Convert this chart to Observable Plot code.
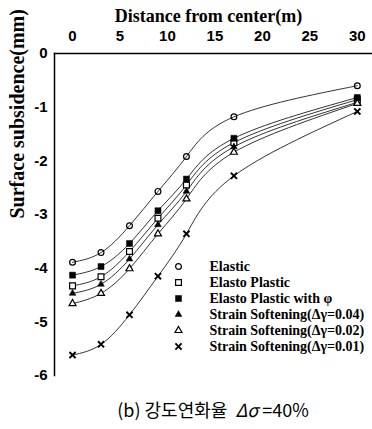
<!DOCTYPE html>
<html>
<head>
<meta charset="utf-8">
<script src="https://cdn.jsdelivr.net/npm/d3@7"></script>
<script src="https://cdn.jsdelivr.net/npm/@observablehq/plot@0.6"></script>
<style>
  html, body { margin: 0; padding: 0; background: #fff; }
  #wrap { position: relative; width: 372px; height: 429px; overflow: hidden; }
  #legend { position: absolute; left: 164px; top: 246px; }
  #caption { position: absolute; left: 54px; width: 318px; top: 397px; text-align: center;
    font-family: "Noto Sans CJK KR", "Noto Sans", sans-serif; font-size: 18px; color: #000; line-height: 24px; white-space: pre; }
</style>
</head>
<body>
<div id="wrap">
  <div id="chart"></div>
  <div id="legend"></div>
  <div id="caption">(b) 강도연화율  <i>Δσ</i> =40%</div>
</div>
<script>
// ---- data ----
const distance = [0, 3, 6, 9, 12, 17, 30];
const seriesNames = [
  "Elastic",
  "Elasto Plastic",
  "Elasto Plastic with φ",
  "Strain Softening(Δγ=0.04)",
  "Strain Softening(Δγ=0.02)",
  "Strain Softening(Δγ=0.01)"
];
const elastic          = [-3.89, -3.71, -3.21, -2.57, -1.92, -1.18, -0.60];
const elastoPlastic    = [-4.33, -4.16, -3.69, -3.07, -2.45, -1.66, -0.86];
const elastoPlasticPhi = [-4.13, -3.97, -3.54, -2.93, -2.34, -1.58, -0.82];
const softening004     = [-4.47, -4.30, -3.83, -3.19, -2.57, -1.74, -0.91];
const softening002     = [-4.66, -4.47, -4.01, -3.36, -2.71, -1.84, -0.93];
const softening001     = [-5.62, -5.42, -4.87, -4.15, -3.36, -2.28, -1.08];
const xTicks = [0, 5, 10, 15, 20, 25, 30];
const yTicks = [0, -1, -2, -3, -4, -5, -6];

const seriesValues = [elastic, elastoPlastic, elastoPlasticPhi, softening004, softening002, softening001];
const data = seriesNames.flatMap((s, i) => distance.map((d, j) => ({series: s, x: d, y: seriesValues[i][j]})));

// ---- marker styles ----
const markerStyle = {
  "Elastic":                   {symbol: "circle",   fill: "none",  r: 2.9, strokeWidth: 1.2},
  "Elasto Plastic":            {symbol: "square",   fill: "white", r: 3.3, strokeWidth: 1.2},
  "Elasto Plastic with φ":     {symbol: "square",   fill: "black", r: 3.4, strokeWidth: 0.5},
  "Strain Softening(Δγ=0.04)": {symbol: "triangle", fill: "black", r: 2.5, strokeWidth: 0.5},
  "Strain Softening(Δγ=0.02)": {symbol: "triangle", fill: "white", r: 2.6, strokeWidth: 1.2},
  "Strain Softening(Δγ=0.01)": {symbol: "times",    fill: "none",  r: 2.9, strokeWidth: 1.9}
};

const serif = "'Liberation Serif', 'Times New Roman', serif";
const sans = "'Liberation Sans', Arial, sans-serif";

const marks = [
  Plot.frame({anchor: "left", strokeWidth: 1.5}),
  Plot.frame({anchor: "top", strokeWidth: 1.5}),
  Plot.axisX(xTicks, {anchor: "top", tickSize: 0, tickPadding: 13, label: null,
    fontSize: 15, fontWeight: "bold", fontFamily: sans}),
  Plot.axisY(yTicks, {anchor: "left", tickSize: 0, tickPadding: 7, label: null,
    tickFormat: d => String(d), fontSize: 15, fontWeight: "bold", fontFamily: sans}),
  Plot.text(["Distance from center(m)"], {frameAnchor: "top", dx: -5, dy: -32, lineAnchor: "bottom",
    fontSize: 18, fontWeight: "bold", fontFamily: serif}),
  Plot.text(["Surface subsidence(mm)"], {frameAnchor: "left", dx: -37, dy: 4, rotate: -90,
    fontSize: 20, fontWeight: "bold", fontFamily: serif}),
  Plot.line(data, {x: "x", y: "y", z: "series", curve: "natural", stroke: "black", strokeWidth: 0.8})
];
for (const s of seriesNames) {
  const st = markerStyle[s];
  marks.push(Plot.dot(data.filter(d => d.series === s), {x: "x", y: "y", stroke: "black", ...st}));
}

const chart = Plot.plot({
  width: 372,
  height: 390,
  marginLeft: 54,
  marginRight: 0,
  marginTop: 53,
  marginBottom: 15,
  x: {domain: [-1.9, 31.6]},
  y: {domain: [-6, 0]},
  style: {background: "white", color: "black"},
  marks
});
document.getElementById("chart").appendChild(chart);

// ---- legend ----
const legendMarks = [
  Plot.text(seriesNames, {y: d => d, frameAnchor: "left", dx: 45, textAnchor: "start",
    fontSize: 14, fontWeight: "bold", fontFamily: serif, fill: "black"})
];
for (const s of seriesNames) {
  const st = markerStyle[s];
  legendMarks.push(Plot.dot([s], {y: d => d, frameAnchor: "left", dx: 14, stroke: "black", ...st}));
}
const legend = Plot.plot({
  width: 208,
  height: 124,
  margin: 0,
  y: {type: "point", domain: seriesNames, range: [10, 110], axis: null},
  style: {background: "transparent", color: "black", overflow: "visible"},
  marks: legendMarks
});
document.getElementById("legend").appendChild(legend);
</script>
</body>
</html>
